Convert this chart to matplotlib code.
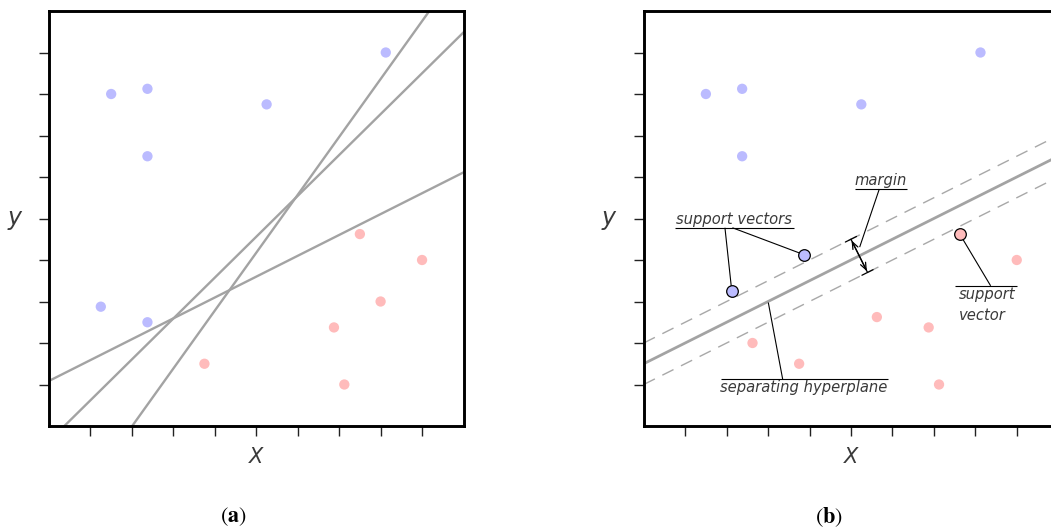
import matplotlib
matplotlib.use("Agg")
import matplotlib.pyplot as plt
import numpy as np

# ---------------- data ----------------
# panel (a)
blue_a_x = [1.5, 2.375, 5.25, 8.125, 2.375, 1.25, 2.375]
blue_a_y = [8.0, 8.125, 7.75, 9.0, 6.5, 2.875, 2.5]
red_a_x = [7.5, 9.0, 8.0, 6.875, 3.75, 7.125]
red_a_y = [4.625, 4.0, 3.0, 2.375, 1.5, 1.0]
# candidate separating lines (slope, intercept)
lines_a_slope = [1.395, 0.985, 0.5025]
lines_a_icept = [-2.80, -0.365, 1.086]

# panel (b)
blue_b_x = [1.5, 2.375, 5.25, 8.125, 2.375]
blue_b_y = [8.0, 8.125, 7.75, 9.0, 6.5]
red_b_x = [2.625, 3.75, 5.625, 6.875, 7.125, 9.0]
red_b_y = [2.0, 1.5, 2.625, 2.375, 1.0, 4.0]
sv_blue_x = [2.125, 3.875]
sv_blue_y = [3.25, 4.125]
sv_red_x = [7.625]
sv_red_y = [4.625]
hyper_slope = 0.5
hyper_icept = 1.5
margin_offsets = [0.5, -0.5]

ticks = [1, 2, 3, 4, 5, 6, 7, 8, 9]

BLUE = '#bbbbff'
RED = '#ffbbbb'
LGREY = '#a3a3a3'
TXT = '#3a3a3a'
FONT = 'DejaVu Sans'
FS = 10.6

W, H = 1051, 532
fig = plt.figure(figsize=(W / 100, H / 100), dpi=100)

def make_ax(left_px):
    ax = fig.add_axes([left_px / W, (H - 426) / H, 414.5 / W, 415 / H])
    ax.set_xlim(0, 10)
    ax.set_ylim(0, 10)
    ax.set_xticks(ticks)
    ax.set_yticks(ticks)
    ax.set_xticklabels([])
    ax.set_yticklabels([])
    ax.tick_params(direction='out', length=7.5, width=1.0, color='#222222')
    for s in ax.spines.values():
        s.set_linewidth(2.1)
        s.set_color('black')
    ax.set_xlabel('X', fontsize=15, fontstyle='italic', family=FONT,
                  color=TXT, labelpad=4)
    ax.set_ylabel('y', fontsize=17, fontstyle='italic', family=FONT,
                  color=TXT, rotation=0, labelpad=14, va='center')
    return ax

# ---------------- panel (a) ----------------
axa = make_ax(49)
xs = np.array([0.0, 10.0])
for m, b in zip(lines_a_slope, lines_a_icept):
    axa.plot(xs, m * xs + b, color=LGREY, lw=1.7, zorder=2)
axa.scatter(blue_a_x, blue_a_y, s=55, color=BLUE, edgecolors='none', zorder=3)
axa.scatter(red_a_x, red_a_y, s=55, color=RED, edgecolors='none', zorder=3)

# ---------------- panel (b) ----------------
axb = make_ax(643.7)
axb.plot(xs, hyper_slope * xs + hyper_icept, color=LGREY, lw=2.0, zorder=2)
for off in margin_offsets:
    axb.plot(xs, hyper_slope * xs + hyper_icept + off, color='#a8a8a8',
             lw=1.0, dashes=(9, 6), zorder=2)
axb.scatter(blue_b_x, blue_b_y, s=55, color=BLUE, edgecolors='none', zorder=3)
axb.scatter(red_b_x, red_b_y, s=55, color=RED, edgecolors='none', zorder=3)

# annotation leader lines
lk = dict(color='black', lw=0.8, zorder=4, solid_capstyle='butt')
tk = dict(fontsize=FS, fontstyle='italic', family=FONT, color=TXT,
          va='baseline')
# support vectors (blue)
axb.plot([0.75, 3.633], [4.777, 4.777], **lk)
axb.plot([1.96, sv_blue_x[0]], [4.777, sv_blue_y[0]], **lk)
axb.plot([2.14, sv_blue_x[1]], [4.777, sv_blue_y[1]], **lk)
axb.text(0.79, 4.87, 'support vectors', ha='left', **tk)
# margin
axb.plot([5.10, 6.35], [5.71, 5.71], **lk)
axb.plot([5.684, 5.21], [5.71, 4.31], **lk)
axb.text(5.72, 5.80, 'margin', ha='center', **tk)
# margin arrow
p_up = (5.0, 4.5)
p_dn = (5.4, 3.7)
axb.annotate('', xy=p_up, xytext=p_dn,
             arrowprops=dict(arrowstyle='|-|, widthA=0.45, widthB=0.45',
                             color='black', lw=0.9, shrinkA=0, shrinkB=0),
             zorder=5)
axb.annotate('', xy=p_up, xytext=p_dn,
             arrowprops=dict(arrowstyle='<->, head_length=0.5, head_width=0.2',
                             color='black', lw=0.9, shrinkA=1, shrinkB=1),
             zorder=5)
# support vector (red)
axb.plot([7.51, 9.01], [3.378, 3.378], **lk)
axb.plot([8.37, sv_red_x[0]], [3.378, sv_red_y[0]], **lk)
axb.text(7.60, 3.05, 'support', ha='left', **tk)
axb.text(7.60, 2.55, 'vector', ha='left', **tk)
# separating hyperplane
axb.plot([1.865, 5.887], [1.127, 1.127], **lk)
axb.plot([3.353, 3.006], [1.127, 2.975], **lk)
axb.text(3.87, 0.82, 'separating hyperplane', ha='center', **tk)

# support vector markers on top
axb.scatter(sv_blue_x, sv_blue_y, s=70, color=BLUE, edgecolors='black',
            linewidths=0.9, zorder=6)
axb.scatter(sv_red_x, sv_red_y, s=70, color=RED, edgecolors='black',
            linewidths=0.9, zorder=6)

# sub-captions
plt.rcParams['mathtext.fontset'] = 'stix'
fig.text(233 / W, 1 - 517 / H, r'$(\mathbf{a})$', fontsize=16,
         ha='center', va='center', color='black')
fig.text(829 / W, 1 - 517 / H, r'$(\mathbf{b})$', fontsize=16,
         ha='center', va='center', color='black')

fig.savefig('out.png', dpi=100)
